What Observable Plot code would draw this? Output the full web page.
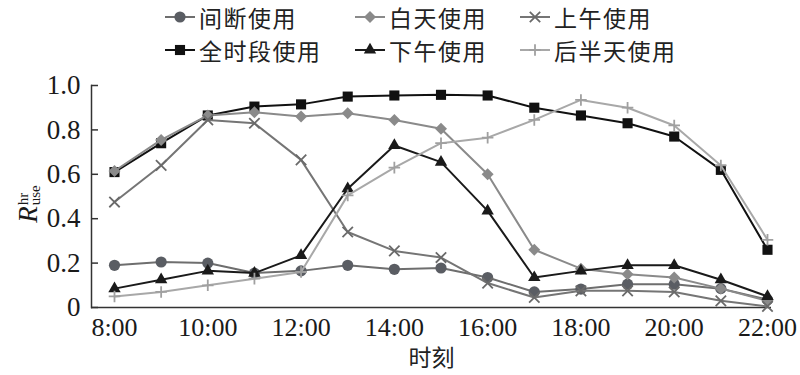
<!DOCTYPE html>
<html>
<head>
<meta charset="utf-8">
<script src="https://cdn.jsdelivr.net/npm/d3@7"></script>
<script src="https://cdn.jsdelivr.net/npm/@observablehq/plot@0.6"></script>
<style>
  html, body { margin: 0; padding: 0; background: #fff; }
  #wrap { position: relative; width: 800px; height: 375px; overflow: hidden;
          font-family: "Liberation Serif", "Noto Sans CJK SC", serif; color: #1a1a1a; }
  #legend { position: relative; width: 800px; height: 64px; }
  .item { position: absolute; display: flex; align-items: center; height: 32px; line-height: 30px;
          font-family: "Noto Sans CJK SC", sans-serif; font-size: 23px; letter-spacing: 1.5px; color: #222; white-space: nowrap; }
  .item svg { display: block; margin-right: 4px; }
  #ylabel { position: absolute; left: 28px; top: 204px; transform: translate(-50%, -50%) rotate(-90deg);
            font-family: "Liberation Serif", serif; font-size: 27px; line-height: 27px; white-space: nowrap; display: flex; align-items: center; }
  #ylabel .ss { display: inline-flex; flex-direction: column; font-size: 15px; line-height: 12px; margin-left: 1px; }
  #chart svg { display: block; }
  #chart svg text { font-family: "Liberation Serif", "Noto Sans CJK SC", serif !important; }
</style>
</head>
<body>
<div id="wrap">
  <div id="legend"></div>
  <div id="chart"></div>
  <div id="ylabel"><i>R</i><span class="ss"><span>hr</span><span>use</span></span></div>
</div>
<script>
// ---- data ----
const hours = [8, 9, 10, 11, 12, 13, 14, 15, 16, 17, 18, 19, 20, 21, 22];
const seriesNames = ["间断使用", "白天使用", "上午使用", "全时段使用", "下午使用", "后半天使用"];
const intermittent = [0.19, 0.205, 0.20, 0.155, 0.165, 0.19, 0.172, 0.178, 0.135, 0.07, 0.083, 0.105, 0.105, 0.085, 0.035];
const daytime      = [0.615, 0.755, 0.865, 0.88, 0.86, 0.875, 0.845, 0.805, 0.60, 0.26, 0.175, 0.15, 0.135, 0.085, 0.03];
const morning      = [0.475, 0.64, 0.845, 0.83, 0.665, 0.34, 0.255, 0.225, 0.11, 0.045, 0.075, 0.075, 0.07, 0.03, 0.005];
const allDay       = [0.61, 0.74, 0.865, 0.905, 0.915, 0.95, 0.955, 0.958, 0.955, 0.90, 0.865, 0.83, 0.77, 0.62, 0.26];
const afternoon    = [0.085, 0.125, 0.165, 0.155, 0.235, 0.535, 0.73, 0.655, 0.435, 0.135, 0.165, 0.19, 0.19, 0.125, 0.05];
const lateHalf     = [0.05, 0.07, 0.10, 0.13, 0.16, 0.505, 0.63, 0.74, 0.765, 0.845, 0.935, 0.90, 0.82, 0.64, 0.305];
const xTicks = [8, 10, 12, 14, 16, 18, 20, 22];
const xTickLabels = ["8:00", "10:00", "12:00", "14:00", "16:00", "18:00", "20:00", "22:00"];
const yTicks = [0, 0.2, 0.4, 0.6, 0.8, 1.0];
const yTickLabels = ["0", "0.2", "0.4", "0.6", "0.8", "1.0"];
const xTitle = "时刻";

const seriesValues = {
  "间断使用": intermittent, "白天使用": daytime, "上午使用": morning,
  "全时段使用": allDay, "下午使用": afternoon, "后半天使用": lateHalf
};

// ---- styles ----
const styles = {
  "间断使用":   {line: "#6e6e6e", mark: "#5a5d63", symbol: "circle",   r: 5.6, fill: true},
  "白天使用":   {line: "#8a8a8a", mark: "#8a8a8a", symbol: "diamond2", r: 5.4, fill: true},
  "上午使用":   {line: "#757575", mark: "#6a6a6a", symbol: "times",    r: 4.8, fill: false},
  "全时段使用": {line: "#111111", mark: "#111111", symbol: "square",   r: 5.7, fill: true},
  "下午使用":   {line: "#1a1a1a", mark: "#1a1a1a", symbol: "triangle", r: 4.6, fill: true},
  "后半天使用": {line: "#a8a8a8", mark: "#a0a0a0", symbol: "plus",     r: 3.8, fill: false}
};
const drawOrder = ["全时段使用", "间断使用", "白天使用", "上午使用", "下午使用", "后半天使用"];

const rows = seriesNames.flatMap(s => hours.map((h, i) => ({series: s, hour: h, value: seriesValues[s][i]})));

// ---- chart ----
const marks = [
  Plot.frame({anchor: "left", stroke: "#333", strokeWidth: 1.5}),
  Plot.ruleY([0], {stroke: "#333", strokeWidth: 1.5}),
  Plot.axisY({ticks: yTicks, tickSize: 0, tickPadding: 11, tickFormat: d => yTickLabels[yTicks.indexOf(d)], label: null, fontSize: 27, fill: "#1a1a1a"}),
  Plot.axisY({ticks: yTicks, tickSize: -7, tickFormat: () => "", label: null, stroke: "#333", strokeWidth: 1.5}),
  Plot.axisX({ticks: xTicks, tickSize: 0, tickPadding: 10, tickFormat: d => xTickLabels[xTicks.indexOf(d)], label: null, fontSize: 26, fill: "#1a1a1a"}),
  Plot.text([xTitle], {frameAnchor: "bottom", lineAnchor: "middle", dy: 51, fontSize: 23, fill: "#222"})
];
for (const s of drawOrder) {
  const st = styles[s];
  const data = rows.filter(d => d.series === s);
  marks.push(Plot.line(data, {x: "hour", y: "value", stroke: st.line, strokeWidth: 2}));
  marks.push(Plot.dot(data, {
    x: "hour", y: "value", symbol: () => st.symbol, r: st.r,
    fill: st.fill ? st.mark : "none", stroke: st.fill ? "none" : st.mark, strokeWidth: st.fill ? 0 : 1.8
  }));
}

const chart = Plot.plot({
  width: 800, height: 311,
  marginTop: 21, marginBottom: 68, marginLeft: 91, marginRight: 29,
  insetLeft: 23, insetRight: 4,
  x: {domain: [8, 22]},
  y: {domain: [0, 1]},
  symbol: {type: "identity"},
  style: {fontSize: "27px", color: "#1a1a1a", background: "#fff"},
  marks
});
document.getElementById("chart").appendChild(chart);

// ---- legend ----
const legendLayout = [
  {name: "间断使用", left: 165, top: 1}, {name: "白天使用", left: 355, top: 1}, {name: "上午使用", left: 520, top: 1},
  {name: "全时段使用", left: 165, top: 34}, {name: "下午使用", left: 355, top: 34}, {name: "后半天使用", left: 520, top: 34}
];
const symMap = {circle: d3.symbolCircle, diamond2: d3.symbolDiamond2, times: d3.symbolTimes,
                square: d3.symbolSquare, triangle: d3.symbolTriangle, plus: d3.symbolPlus};
const legend = d3.select("#legend");
for (const it of legendLayout) {
  const st = styles[it.name];
  const div = legend.append("div").attr("class", "item").style("left", it.left + "px").style("top", it.top + "px");
  const svg = div.append("svg").attr("width", 30).attr("height", 32);
  svg.append("line").attr("x1", 0).attr("x2", 30).attr("y1", 16).attr("y2", 16)
    .attr("stroke", st.line).attr("stroke-width", 2);
  svg.append("path").attr("transform", "translate(15,16)")
    .attr("d", d3.symbol(symMap[st.symbol], Math.PI * st.r * st.r)())
    .attr("fill", st.fill ? st.mark : "none").attr("stroke", st.fill ? "none" : st.mark).attr("stroke-width", st.fill ? 0 : 1.8);
  div.append("span").text(it.name);
}
</script>
</body>
</html>
